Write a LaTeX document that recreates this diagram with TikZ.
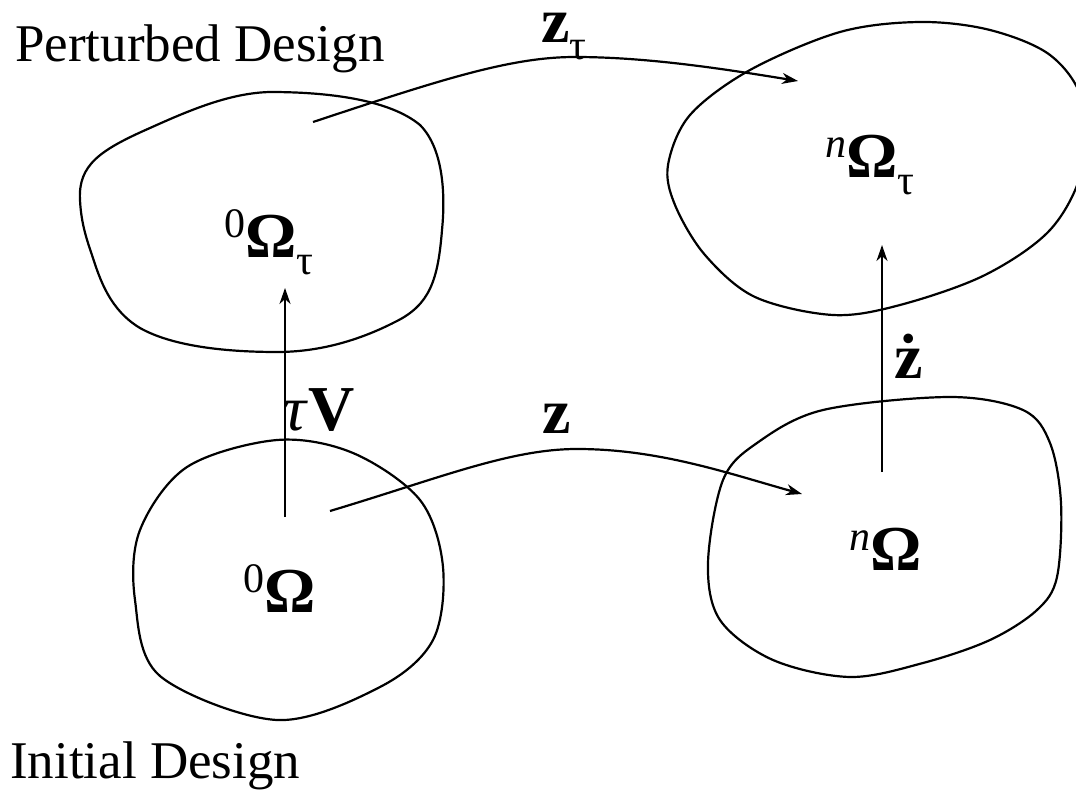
\documentclass[tikz,border=0pt]{standalone}
\usepackage{fontspec}
\setmainfont{Liberation Serif}
\usetikzlibrary{arrows.meta}
\tikzset{
  blob/.style={line width=2.2pt, line join=round},
  conn/.style={line width=2.2pt, -{Stealth[length=16pt,width=11pt,inset=5pt]}},
  lbl/.style={font=\fontsize{64}{68}\selectfont, inner sep=0pt, anchor=base west},
  captext/.style={font=\fontsize{53}{58}\selectfont, inner sep=0pt, anchor=base west},
}
\newcommand{\mysub}[1]{\raisebox{-17pt}{\fontsize{42}{42}\selectfont #1}}
\newcommand{\mysps}[1]{\raisebox{20pt}{\fontsize{42}{42}\selectfont #1}}
\begin{document}
\begin{tikzpicture}[x=1pt,y=-1pt]
\useasboundingbox (0,0) rectangle (1076,791);
% blobs
\draw[blob] (80,200) .. controls (78,165) and (100,150) .. (150,128)
  .. controls (190,110) and (230,93) .. (270,92)
  .. controls (330,92) and (390,100) .. (420,125)
  .. controls (445,150) and (445,200) .. (442,230)
  .. controls (438,280) and (430,305) .. (395,322)
  .. controls (360,340) and (320,352) .. (277,352)
  .. controls (220,352) and (170,345) .. (140,328)
  .. controls (110,310) and (100,280) .. (92,255)
  .. controls (85,235) and (81,220) .. cycle;
\draw[blob] plot[smooth cycle, tension=0.55] coordinates {(668,165) (690,115) (750,70) (840,32) (920,22) (990,30) (1050,55) (1082,100) (1082,170) (1050,230) (985,275) (900,305) (833,315) (755,297) (705,255) (675,205)};
\draw[blob] plot[smooth cycle, tension=0.55] coordinates {(277,440) (353,453) (420,500) (443,567) (433,640) (380,687) (277,720) (160,676) (135,600) (140,530) (187,467)};
\draw[blob] plot[smooth cycle, tension=0.55] coordinates {(950,397) (1023,410) (1050,443) (1061,503) (1057,577) (1037,610) (990,640) (923,663) (850,677) (773,660) (720,620) (708,563) (723,480) (757,443) (823,410)};
% labels
\node[captext] (pd) at (15,62) {Perturbed Design};
\node[captext] (id) at (10,778) {Initial Design};
\node[lbl] (a) at (224,258) {\mysps{0}\textbf{Ω}\mysub{τ}};
\node[lbl] (b) at (825,178) {\mysps{\textit{n}}\textbf{Ω}\mysub{τ}};
\node[lbl] (c) at (243,612) {\mysps{0}\textbf{Ω}};
\node[lbl] (d) at (849,570) {\mysps{\textit{n}}\textbf{Ω}};
\node[lbl, text height=28pt, text depth=17pt] (lzt) at (541,43) {\textbf{z}\mysub{τ}};
\node[lbl] (lz) at (542,433) {\textbf{z}};
\node[lbl] (lzd) at (894,378) {\textbf{ż}};
\node[lbl] (ltv) at (283,430) {\textit{τ}\textbf{V}};
% connectors
\coordinate (s1) at (313,122); \coordinate (e1) at (798,81);
\coordinate (s2) at (330,511); \coordinate (e2) at (802,494);
\coordinate (s3) at (285,517); \coordinate (e3) at (285,288);
\coordinate (s4) at (882,472); \coordinate (e4) at (882,245);
\draw[conn] (s1) .. controls (440,80) and (510,57) .. (575,57) .. controls (650,57) and (730,70) .. (e1);
\draw[conn] (s2) .. controls (440,478) and (510,449) .. (577,449) .. controls (660,449) and (730,474) .. (e2);
\draw[conn] (s3) -- (e3);
\draw[conn] (s4) -- (e4);
\end{tikzpicture}
\end{document}
